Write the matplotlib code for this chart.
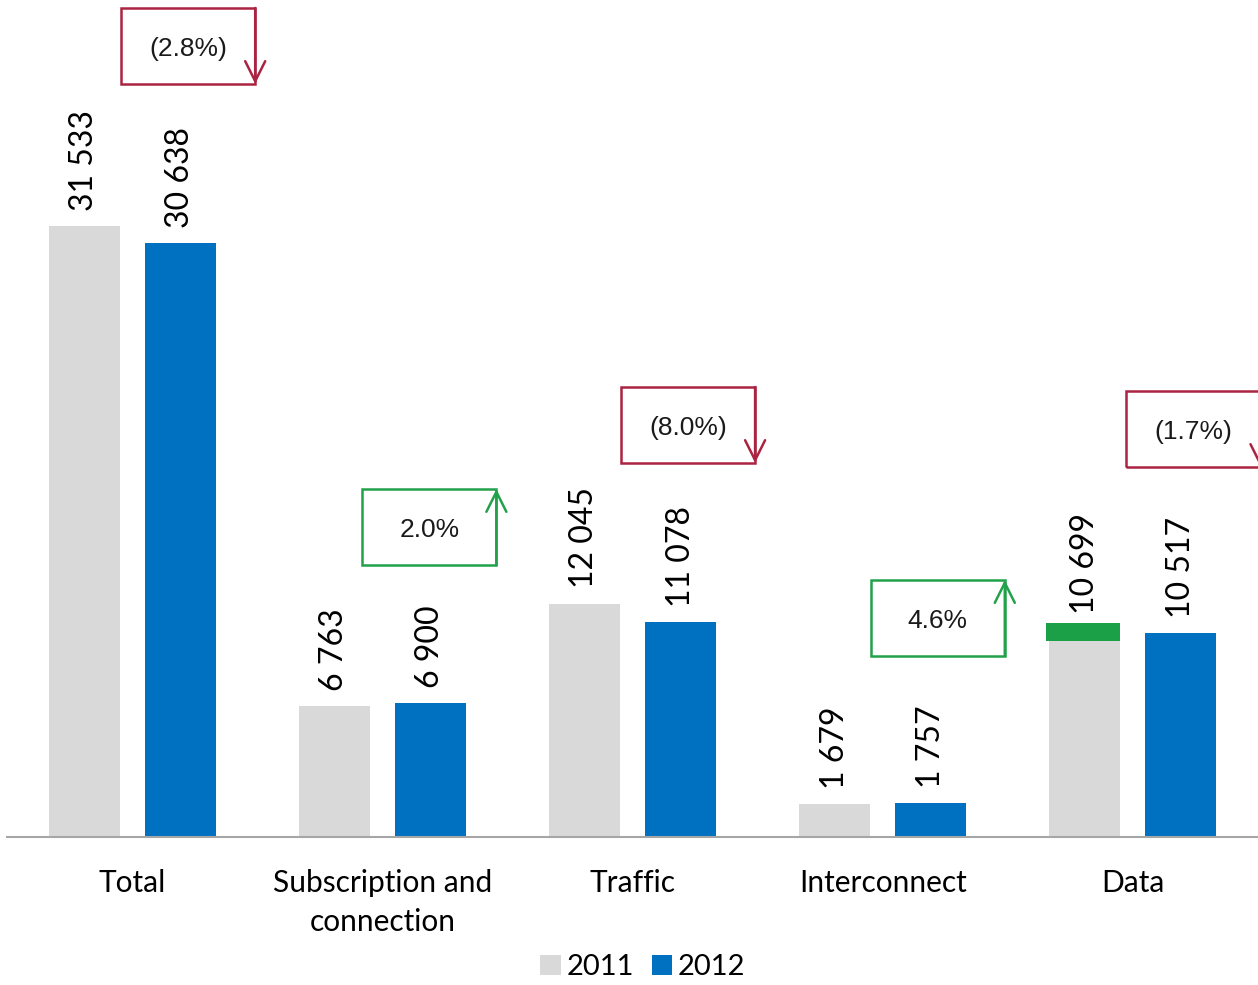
import matplotlib
matplotlib.use("Agg")
import matplotlib.pyplot as plt
from matplotlib.patches import Rectangle
import numpy as np

plt.rcParams['font.family'] = ['Lato', 'DejaVu Sans']

categories = ["Total", "Subscription and\nconnection", "Traffic", "Interconnect", "Data"]
values_2011 = [31533, 6763, 12045, 1679, 10699]
values_2012 = [30638, 6900, 11078, 1757, 10517]
# green band drawn on top of the 2011 Data bar (bottom, top)
data_green_band = [10115, 11045]

gray = "#D9D9D9"
blue = "#0070C0"
green = "#1BA048"
red_box = "#AA2441"
green_box = "#22A14B"

# box layout (offset from group centre, bottom in data units)
box_dx = [-0.044, -0.08, -0.046, -0.048, -0.026]
box_bottom = [38862, 14038, 19302, 9341, 19096]
box_w = 0.536
box_h = 3922


def fmt(v):
    return "{:,}".format(v).replace(",", " ")


fig = plt.figure(figsize=(12.58, 9.85), dpi=100)
ax = fig.add_axes([7/1258, 148/985, 1251/1258, 837/985])

x = np.arange(len(categories))
w = 0.284
off = 0.192
b1 = ax.bar(x - off, values_2011, w, color=gray, label="2011", zorder=2)
b2 = ax.bar(x + off, values_2012, w, color=blue, label="2012", zorder=2)

# green top piece on Data 2011
ax.bar(x[4] - off - 0.006, data_green_band[1] - data_green_band[0], w + 0.012,
       bottom=data_green_band[0], color=green, zorder=3)

for bars, vals in [(b1, values_2011), (b2, values_2012)]:
    for rect, v in zip(bars, vals):
        ax.annotate(fmt(v), xy=(rect.get_x() + rect.get_width()/2, v),
                    xytext=(0, 11), textcoords="offset points",
                    rotation=90, ha="center", va="bottom",
                    fontsize=23, color="black")

# change boxes with arrows
for i in range(len(categories)):
    ch = values_2012[i] / values_2011[i] - 1
    if ch < 0:
        txt = "({:.1f}%)".format(abs(ch) * 100)
        col = red_box
    else:
        txt = "{:.1f}%".format(ch * 100)
        col = green_box
    left = x[i] + box_dx[i]
    bot = box_bottom[i]
    ax.add_patch(Rectangle((left, bot), box_w, box_h, fill=False,
                           edgecolor=col, lw=1.8, clip_on=False, zorder=4))
    right = left + box_w
    if ch < 0:
        tail, tip = (right, bot + box_h), (right, bot)
    else:
        tail, tip = (right, bot), (right, bot + box_h)
    ax.annotate("", xy=tip, xytext=tail,
                arrowprops=dict(arrowstyle="->", color=col, lw=1.8,
                                shrinkA=0, shrinkB=0, mutation_scale=36),
                annotation_clip=False, zorder=5)
    ax.text(left + box_w/2, bot + box_h*0.46, txt, ha="center", va="center",
            fontsize=19, family="Liberation Sans", color="#1a1a1a")

ax.set_xlim(-0.5, 4.5)
ax.set_ylim(0, 43197)
ax.set_xticks(x)
ax.set_xticklabels(categories, fontsize=21.5, color="black", linespacing=1.5)
ax.tick_params(axis="x", length=0, pad=23)
ax.set_yticks([])
for s in ["top", "right", "left"]:
    ax.spines[s].set_visible(False)
ax.spines["bottom"].set_color("#A6A6A6")
ax.spines["bottom"].set_linewidth(1.5)

fig.legend(handles=[b1, b2], loc="lower center", bbox_to_anchor=(0.511, -0.022),
           ncol=2, frameon=False, fontsize=21, handlelength=0.7, handleheight=0.7,
           handletextpad=0.2, columnspacing=0.6)

fig.savefig("out.png", dpi=100)
